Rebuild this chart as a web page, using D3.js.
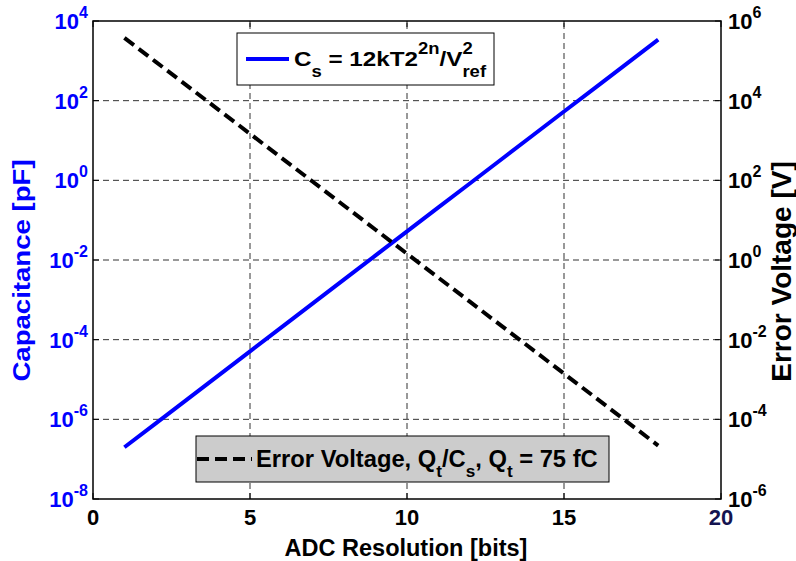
<!DOCTYPE html>
<html>
<head>
<meta charset="utf-8">
<script src="https://cdn.jsdelivr.net/npm/d3@7"></script>
<style>
  body { margin: 0; background: #fff; }
  text { font-family: "Liberation Sans", Arial, sans-serif; font-weight: bold; }
</style>
</head>
<body>
<svg id="chart" width="796" height="561"></svg>
<script>
// ADC resolution in bits
const bits = [1, 2, 3, 4, 5, 6, 7, 8, 9, 10, 11, 12, 13, 14, 15, 16, 17, 18];
// Sampling capacitance Cs = 12kT·2^(2n)/Vref^2 (pF, Vref = 1 V, T = 300 K)
const capacitancePF = [1.988e-7, 7.953e-7, 3.181e-6, 1.272e-5, 5.090e-5, 2.036e-4,
  8.144e-4, 3.258e-3, 1.303e-2, 5.212e-2, 0.2085, 0.8340, 3.336, 13.34, 53.37,
  213.5, 853.9, 3416];
// Error voltage Qt/Cs for Qt = 75 fC (V)
const errorVoltage = [3.773e5, 9.430e4, 2.358e4, 5895, 1474, 368.4, 92.10, 23.02,
  5.756, 1.439, 0.3597, 0.08993, 0.02248, 5.621e-3, 1.405e-3, 3.513e-4, 8.782e-5,
  2.196e-5];
// Axis ticks
const xTicks = [0, 5, 10, 15, 20];
const leftTicks = [1e-8, 1e-6, 1e-4, 1e-2, 1e0, 1e2, 1e4];
const rightTicks = [1e-6, 1e-4, 1e-2, 1e0, 1e2, 1e4, 1e6];

const svg = d3.select("#chart");
const L = 93, R = 721, T = 21, B = 499;

const x = d3.scaleLinear().domain([0, 20]).range([L, R]);
const yL = d3.scaleLog().domain([1e-8, 1e4]).range([B, T]);
const yR = d3.scaleLog().domain([1e-6, 1e6]).range([B, T]);

// grid
const grid = svg.append("g").attr("stroke", "#333").attr("stroke-width", 1)
  .attr("stroke-dasharray", "6,4").attr("fill", "none");
xTicks.slice(1, -1).forEach(v => {
  grid.append("line").attr("x1", x(v)).attr("x2", x(v)).attr("y1", B).attr("y2", T);
});
leftTicks.slice(1, -1).forEach(v => {
  grid.append("line").attr("x1", L).attr("x2", R).attr("y1", yL(v)).attr("y2", yL(v));
});

// tick marks (inside, on all four sides)
const tk = svg.append("g").attr("stroke", "#000").attr("stroke-width", 1);
xTicks.forEach(v => {
  tk.append("line").attr("x1", x(v)).attr("x2", x(v)).attr("y1", B).attr("y2", B - 6);
  tk.append("line").attr("x1", x(v)).attr("x2", x(v)).attr("y1", T).attr("y2", T + 6);
});
leftTicks.forEach(v => {
  tk.append("line").attr("x1", L).attr("x2", L + 6).attr("y1", yL(v)).attr("y2", yL(v));
});
rightTicks.forEach(v => {
  tk.append("line").attr("x1", R).attr("x2", R - 6).attr("y1", yR(v)).attr("y2", yR(v));
});

// data lines
const lineCap = d3.line().x((d, i) => x(bits[i])).y(d => yL(d));
const lineErr = d3.line().x((d, i) => x(bits[i])).y(d => yR(d));

svg.append("path").datum(capacitancePF).attr("d", lineCap)
  .attr("fill", "none").attr("stroke", "#0000ff").attr("stroke-width", 4);
svg.append("path").datum(errorVoltage).attr("d", lineErr)
  .attr("fill", "none").attr("stroke", "#000").attr("stroke-width", 4)
  .attr("stroke-dasharray", "12,6");

// axes box
svg.append("rect").attr("x", L).attr("y", T).attr("width", R - L).attr("height", B - T)
  .attr("fill", "none").attr("stroke", "#000").attr("stroke-width", 1.5);

// power-of-ten label helper
function powLabel(g, v, px, py, anchor, color) {
  const e = Math.round(Math.log10(v));
  const t = g.append("text").attr("x", px).attr("y", py).attr("text-anchor", anchor)
    .attr("fill", color).attr("font-size", 22);
  t.append("tspan").text("10");
  t.append("tspan").attr("dy", -11).attr("font-size", 16).text(e);
}

const lbl = svg.append("g");
leftTicks.forEach(v => powLabel(lbl, v, 88, yL(v) + 8, "end", "#0000ff"));
rightTicks.forEach(v => powLabel(lbl, v, 728, yR(v) + 8, "start", "#000"));

xTicks.forEach(v => {
  lbl.append("text").attr("x", x(v)).attr("y", 525).attr("text-anchor", "middle")
    .attr("font-size", 22).attr("fill", v === 20 ? "#141450" : "#000").text(v);
});

// axis titles
svg.append("text").attr("x", 406).attr("y", 556).attr("text-anchor", "middle")
  .attr("font-size", 23.5).attr("fill", "#000").text("ADC Resolution [bits]");
svg.append("text").attr("transform", "translate(30,270.5) rotate(-90) scale(1.2,1)")
  .attr("text-anchor", "middle").attr("font-size", 23).attr("fill", "#0000ff")
  .text("Capacitance [pF]");
svg.append("text").attr("transform", "translate(791,271.5) rotate(-90)")
  .attr("text-anchor", "middle").attr("font-size", 28).attr("fill", "#000")
  .text("Error Voltage [V]");

// stretch a text element horizontally so it spans the given width from its left edge
function fitWidth(sel, x0, width) {
  const w = sel.node().getBBox().width;
  const s = width / w;
  sel.attr("transform", `translate(${x0},0) scale(${s},1) translate(${-x0},0)`);
}

// legend: capacitance
const lg1 = svg.append("g");
lg1.append("rect").attr("x", 237).attr("y", 33).attr("width", 257).attr("height", 52)
  .attr("fill", "#fff").attr("stroke", "#000").attr("stroke-width", 1);
lg1.append("line").attr("x1", 246).attr("x2", 289).attr("y1", 59).attr("y2", 59)
  .attr("stroke", "#0000ff").attr("stroke-width", 4);
const t1 = lg1.append("text").attr("x", 294).attr("y", 66).attr("font-size", 21).attr("fill", "#000");
t1.append("tspan").text("C");
t1.append("tspan").attr("dy", 11).attr("font-size", 16).text("s");
t1.append("tspan").attr("dy", -11).text(" = 12kT2");
t1.append("tspan").attr("dy", -11.5).attr("font-size", 16).text("2n");
t1.append("tspan").attr("dy", 11.5).text("/V");
const sup2 = t1.append("tspan").attr("dy", -11.5).attr("font-size", 16).text("2");
const w2 = sup2.node().getComputedTextLength();
t1.append("tspan").attr("dy", 22.5).attr("dx", -w2).attr("font-size", 16).text("ref");
fitWidth(t1, 294, 193);

// legend: error voltage
const lg2 = svg.append("g");
lg2.append("rect").attr("x", 196).attr("y", 436).attr("width", 413).attr("height", 46)
  .attr("fill", "#cccccc").attr("stroke", "#000").attr("stroke-width", 1);
lg2.append("line").attr("x1", 197).attr("x2", 252).attr("y1", 459).attr("y2", 459)
  .attr("stroke", "#000").attr("stroke-width", 4).attr("stroke-dasharray", "12,6");
const t2 = lg2.append("text").attr("x", 256).attr("y", 467).attr("font-size", 23.5).attr("fill", "#000");
t2.append("tspan").text("Error Voltage, Q");
t2.append("tspan").attr("dy", 10).attr("font-size", 17).text("t");
t2.append("tspan").attr("dy", -10).text("/C");
t2.append("tspan").attr("dy", 10).attr("font-size", 17).text("s");
t2.append("tspan").attr("dy", -10).text(", Q");
t2.append("tspan").attr("dy", 10).attr("font-size", 17).text("t");
t2.append("tspan").attr("dy", -10).text(" = 75 fC");
fitWidth(t2, 256, 342);
</script>
</body>
</html>
